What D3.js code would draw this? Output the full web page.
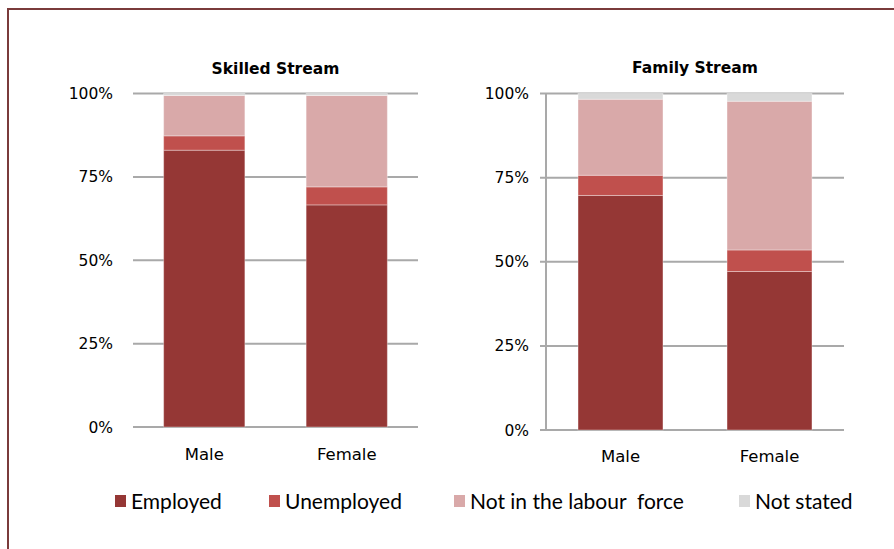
<!DOCTYPE html>
<html>
<head>
<meta charset="utf-8">
<script src="https://cdn.jsdelivr.net/npm/d3@7"></script>
<style>
  body { margin: 0; background: #fff; }
  svg { display: block; }
</style>
</head>
<body>
<div id="chart"></div>
<script>
// categories and series
var categories = ["Male", "Female"];
var seriesNames = ["Employed", "Unemployed", "Not in the labour  force", "Not stated"];
var seriesKeys = ["employed", "unemployed", "notInLabour", "notStated"];
var seriesColours = ["#953735", "#c0504d", "#d9a9a9", "#d9d9d9"];

// shares, Male then Female
var skilledEmployed    = [0.830, 0.666];
var skilledUnemployed  = [0.043, 0.054];
var skilledNotInLabour = [0.121, 0.274];
var skilledNotStated   = [0.006, 0.006];

var familyEmployed    = [0.697, 0.471];
var familyUnemployed  = [0.060, 0.064];
var familyNotInLabour = [0.226, 0.442];
var familyNotStated   = [0.017, 0.023];

var yTicks = [0, 0.25, 0.5, 0.75, 1];

function rows(e, u, n, s) {
    return categories.map(function(c, i) {
        return { cat: c, employed: e[i], unemployed: u[i], notInLabour: n[i], notStated: s[i] };
    });
}

var panels = [
    { title: "Skilled Stream", data: rows(skilledEmployed, skilledUnemployed, skilledNotInLabour, skilledNotStated),
      x0: 133, x1: 418, yTop: 93.5, yBottom: 427, axisLine: false, titleY: 74, catY: 460 },
    { title: "Family Stream", data: rows(familyEmployed, familyUnemployed, familyNotInLabour, familyNotStated),
      x0: 546, x1: 844, yTop: 93.5, yBottom: 430, axisLine: true, titleY: 73, catY: 462 }
];

var svgWidth = 894, svgHeight = 549;

var svg = d3.select("#chart").append("svg")
    .attr("width", svgWidth)
    .attr("height", svgHeight);

// outer frame, runs off the right and bottom edges
svg.append("rect")
    .attr("x", 8)
    .attr("y", 9)
    .attr("width", svgWidth + 20)
    .attr("height", svgHeight + 20)
    .attr("fill", "none")
    .attr("stroke", "#7a3b3b")
    .attr("stroke-width", 2);

var stack = d3.stack().keys(seriesKeys);
var colour = d3.scaleOrdinal().domain(seriesKeys).range(seriesColours);

panels.forEach(function(p) {

    var xscale = d3.scaleBand()
        .domain(categories)
        .range([p.x0, p.x1])
        .paddingInner(0.43)
        .paddingOuter(0.215);

    var yscale = d3.scaleLinear()
        .domain([0, 1])
        .range([p.yBottom, p.yTop]);

    var g = svg.append("g");

    // gridlines
    g.selectAll(".grid")
        .data(yTicks)
        .enter().append("line")
        .attr("class", "grid")
        .attr("x1", p.axisLine ? p.x0 - 6 : p.x0)
        .attr("x2", p.x1)
        .attr("y1", d => yscale(d))
        .attr("y2", d => yscale(d))
        .attr("stroke", "#a9a9a9")
        .attr("stroke-width", 2);

    // tick labels
    g.selectAll(".ytick")
        .data(yTicks)
        .enter().append("text")
        .attr("class", "ytick")
        .attr("x", p.axisLine ? p.x0 - 17 : p.x0 - 20)
        .attr("y", d => yscale(d))
        .attr("dy", "0.36em")
        .attr("text-anchor", "end")
        .style("font-family", "DejaVu Sans, sans-serif")
        .style("font-size", "15.5px")
        .attr("fill", "#000")
        .text(d3.format(".0%"));

    // stacked bars
    var layers = g.selectAll(".layer")
        .data(stack(p.data))
        .enter().append("g")
        .attr("class", "layer")
        .attr("fill", d => colour(d.key));

    layers.selectAll("rect")
        .data(d => d)
        .enter().append("rect")
        .attr("x", d => xscale(d.data.cat))
        .attr("width", xscale.bandwidth())
        .attr("y", d => yscale(d[1]))
        .attr("height", d => yscale(d[0]) - yscale(d[1]))
        .attr("stroke", "#fff")
        .attr("stroke-opacity", 0.35)
        .attr("stroke-width", 1);

    if (p.axisLine) {
        g.append("line")
            .attr("x1", p.x0).attr("x2", p.x0)
            .attr("y1", p.yTop).attr("y2", p.yBottom)
            .attr("stroke", "#a9a9a9")
            .attr("stroke-width", 2);
    }

    // category labels
    g.selectAll(".xlab")
        .data(categories)
        .enter().append("text")
        .attr("class", "xlab")
        .attr("x", d => xscale(d) + xscale.bandwidth() / 2)
        .attr("y", p.catY)
        .attr("text-anchor", "middle")
        .style("font-family", "DejaVu Sans, sans-serif")
        .style("font-size", "16.5px")
        .attr("fill", "#000")
        .text(d => d);

    // title
    g.append("text")
        .attr("x", (p.x0 + p.x1) / 2)
        .attr("y", p.titleY)
        .attr("text-anchor", "middle")
        .style("font-family", "DejaVu Sans, sans-serif")
        .style("font-size", "15.5px")
        .style("font-weight", "bold")
        .attr("fill", "#000")
        .text(p.title);
});

// legend
var legendX = [115, 269, 454, 739];
var legend = svg.selectAll(".legend")
    .data(seriesNames)
    .enter().append("g")
    .attr("class", "legend")
    .attr("transform", (d, i) => "translate(" + legendX[i] + ",495)");

legend.append("rect")
    .attr("width", 11)
    .attr("height", 12)
    .attr("fill", (d, i) => seriesColours[i]);

legend.append("text")
    .attr("x", 16)
    .attr("y", 14)
    .style("font-family", "Lato, sans-serif")
    .style("font-size", "21px")
    .style("white-space", "pre")
    .attr("fill", "#000")
    .text(d => d);
</script>
</body>
</html>
